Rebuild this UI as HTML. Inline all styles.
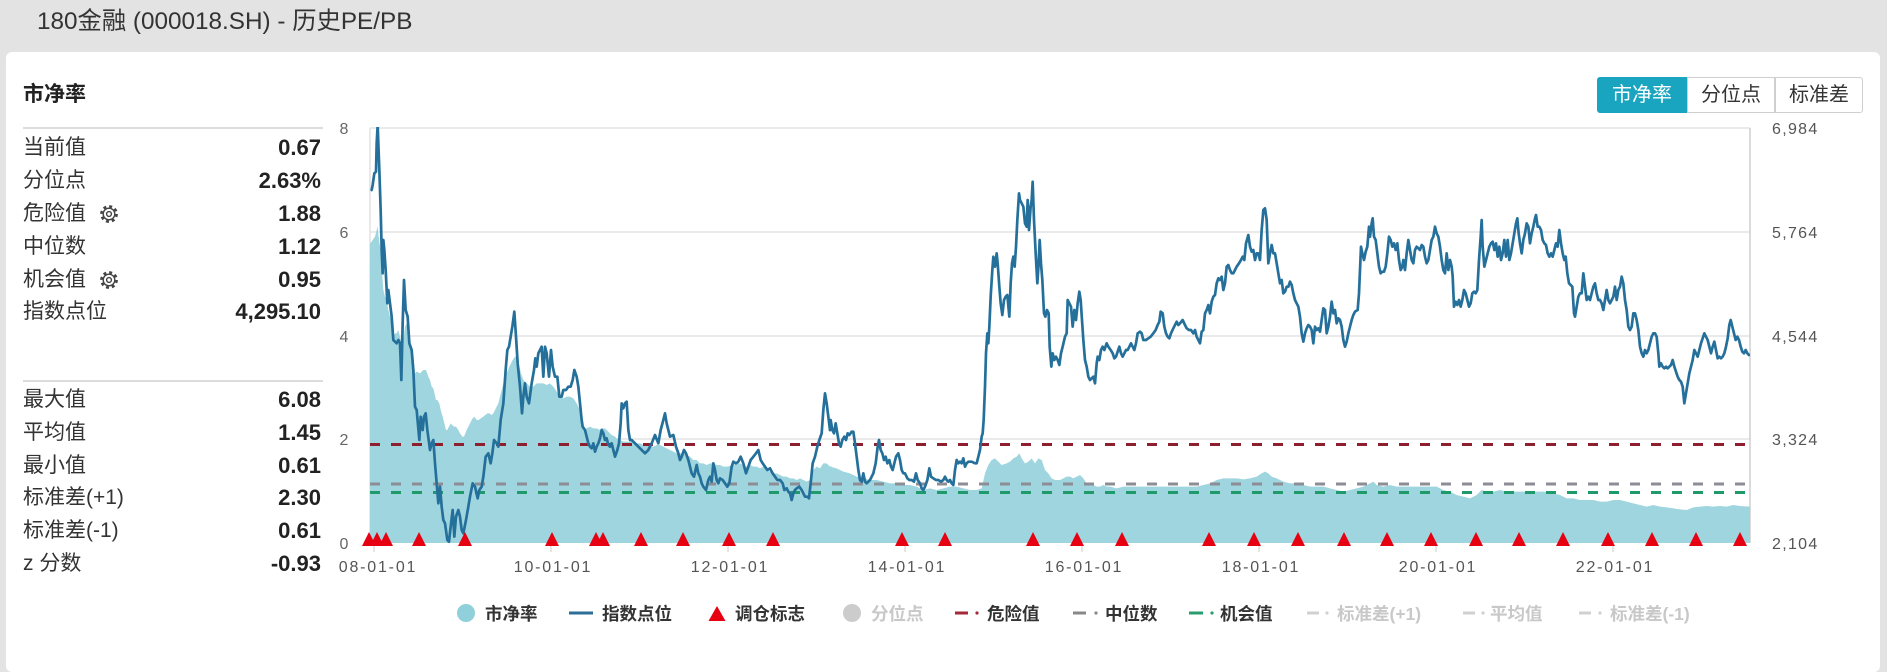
<!DOCTYPE html>
<html><head><meta charset="utf-8">
<style>
html,body{margin:0;padding:0}
body{width:1887px;height:649px;background:#e3e3e3;overflow:hidden;font-family:"Liberation Sans","Noto Sans CJK SC",sans-serif;position:relative}
.title{position:absolute;left:37px;top:5px;font-size:24.3px;line-height:34px;color:#333;white-space:nowrap}
.card{position:absolute;left:6px;top:52px;width:1874px;height:620px;background:#fff;border-radius:6px}
.h{position:absolute;left:23px;top:80px;font-size:21px;font-weight:bold;line-height:30px;color:#222}
.sep{position:absolute;left:23px;width:300px;height:2px;background:#dcdcdc}
.r{position:absolute;left:23px;width:300px;height:30px;line-height:30px;font-size:21px;color:#333;white-space:nowrap}
.r b{position:absolute;right:2px;top:0;font-size:22px;color:#222}
.r svg{position:absolute;left:76px;top:5px}
.btn{position:absolute;top:77px;height:36px;line-height:35px;font-size:20px;text-align:center;box-sizing:border-box;color:#333;background:#fff;border:1.5px solid #cfcfcf}
svg.chart{position:absolute;left:0;top:0}
</style></head>
<body>
<div class="title">180金融 (000018.SH) - 历史PE/PB</div>
<div class="card"></div>
<div class="h">市净率</div>
<div class="sep" style="top:127px"></div>
<div class="r" style="top:133px">当前值<b>0.67</b></div>
<div class="r" style="top:166px">分位点<b>2.63%</b></div>
<div class="r" style="top:199px">危险值<svg width="20" height="20" viewBox="0 0 20 20"><circle cx="10" cy="10" r="7.6" fill="none" stroke="#444" stroke-width="2.6" stroke-dasharray="2.98 2.98"/><circle cx="10" cy="10" r="5.8" fill="#fff" stroke="#444" stroke-width="1.4"/><circle cx="10" cy="10" r="2.4" fill="none" stroke="#444" stroke-width="1.4"/></svg><b>1.88</b></div>
<div class="r" style="top:232px">中位数<b>1.12</b></div>
<div class="r" style="top:265px">机会值<svg width="20" height="20" viewBox="0 0 20 20"><circle cx="10" cy="10" r="7.6" fill="none" stroke="#444" stroke-width="2.6" stroke-dasharray="2.98 2.98"/><circle cx="10" cy="10" r="5.8" fill="#fff" stroke="#444" stroke-width="1.4"/><circle cx="10" cy="10" r="2.4" fill="none" stroke="#444" stroke-width="1.4"/></svg><b>0.95</b></div>
<div class="r" style="top:297px">指数点位<b>4,295.10</b></div>
<div class="sep" style="top:380px"></div>
<div class="r" style="top:385px">最大值<b>6.08</b></div>
<div class="r" style="top:418px">平均值<b>1.45</b></div>
<div class="r" style="top:451px">最小值<b>0.61</b></div>
<div class="r" style="top:483px">标准差(+1)<b>2.30</b></div>
<div class="r" style="top:516px">标准差(-1)<b>0.61</b></div>
<div class="r" style="top:549px">z 分数<b>-0.93</b></div>

<div class="btn" style="left:1597px;width:90px;background:#19a4bf;border-color:#19a4bf;color:#fff;border-radius:3px 0 0 3px">市净率</div>
<div class="btn" style="left:1687px;width:88px">分位点</div>
<div class="btn" style="left:1775px;width:88px;border-radius:0 3px 3px 0">标准差</div>

<svg class="chart" width="1887" height="649" viewBox="0 0 1887 649">
<defs><clipPath id="cp"><rect x="370" y="127" width="1380" height="417"/></clipPath></defs>
<!-- grid -->
<g stroke="#e4e4e4" stroke-width="1.5">
<line x1="370" y1="128" x2="1750" y2="128"/>
<line x1="370" y1="232" x2="1750" y2="232"/>
<line x1="370" y1="336" x2="1750" y2="336"/>
<line x1="370" y1="439" x2="1750" y2="439"/>
</g>
<line x1="370" y1="128" x2="370" y2="543" stroke="#e2e2e2" stroke-width="1.5"/>
<line x1="1750" y1="128" x2="1750" y2="543" stroke="#cfcfcf" stroke-width="1.5"/>
<g stroke="#cccccc" stroke-width="1">
<line x1="374" y1="543" x2="374" y2="552"/><line x1="551" y1="543" x2="551" y2="552"/><line x1="728" y1="543" x2="728" y2="552"/><line x1="905" y1="543" x2="905" y2="552"/><line x1="1082" y1="543" x2="1082" y2="552"/><line x1="1259" y1="543" x2="1259" y2="552"/><line x1="1436" y1="543" x2="1436" y2="552"/><line x1="1613" y1="543" x2="1613" y2="552"/>
</g>

<g clip-path="url(#cp)">
<!-- PB area -->
<g transform="translate(330 110) scale(0.333333)" fill="#9fd5de" stroke="none">
<path d="M120,1299 L120,400 125,395 135,380 140,360 143,350 147,390 152,420 157,500 160,540 165,560 170,570 175,600 180,620 185,640 190,680 195,670 200,670 205,660 210,680 215,700 220,690 225,650 230,640 235,660 240,690 245,720 250,740 255,790 260,785 270,790 280,780 288,780 295,800 300,810 305,830 310,835 318,870 322,870 328,880 332,900 338,920 343,940 348,960 352,960 357,950 362,940 366,945 372,950 378,950 385,960 390,970 397,980 402,980 410,960 420,940 428,925 433,920 440,930 446,930 452,925 460,920 466,915 472,910 478,910 485,915 490,910 495,900 500,890 505,880 510,860 520,820 530,790 538,770 543,760 548,750 555,740 560,740 566,760 573,790 580,810 590,820 600,830 610,830 620,820 630,820 640,820 650,825 660,820 670,830 680,845 690,860 700,865 710,860 720,860 730,865 740,880 745,890 750,900 755,920 760,950 765,960 770,955 780,950 790,955 800,955 810,960 815,955 825,955 835,965 845,975 855,980 860,985 870,990 880,995 890,995 900,995 910,995 920,1000 930,1000 940,1005 950,1005 960,1010 970,1010 980,1005 990,1005 1000,1010 1010,1015 1020,1020 1030,1025 1040,1030 1050,1030 1060,1030 1070,1035 1080,1040 1090,1050 1100,1050 1110,1060 1120,1060 1130,1065 1140,1060 1150,1060 1160,1065 1170,1065 1180,1070 1190,1070 1200,1068 1210,1065 1220,1060 1230,1060 1240,1065 1250,1070 1260,1065 1270,1070 1280,1070 1290,1075 1300,1070 1310,1080 1320,1085 1330,1090 1340,1090 1350,1095 1360,1100 1370,1100 1380,1105 1390,1105 1400,1110 1410,1105 1420,1110 1430,1115 1440,1110 1450,1080 1460,1070 1470,1075 1480,1060 1490,1060 1500,1070 1504,1068 L1504,1299 Z"/>
</g>
<g transform="translate(810 120) scale(0.333333)" fill="#9fd5de" stroke="none">
<path d="M60,1269 L60,1040 80,1045 100,1055 120,1060 140,1070 160,1075 180,1080 200,1080 220,1085 240,1090 260,1090 280,1095 300,1095 320,1100 340,1110 360,1105 380,1110 400,1105 420,1100 440,1100 460,1105 480,1110 500,1110 515,1105 525,1060 535,1035 545,1020 555,1015 565,1025 575,1035 590,1030 600,1025 610,1015 620,1010 628,1000 635,1015 645,1030 655,1025 665,1015 675,1030 685,1015 695,1020 705,1050 715,1060 725,1075 735,1080 750,1080 760,1075 770,1070 780,1070 790,1075 800,1070 810,1065 820,1075 830,1090 840,1095 850,1095 860,1100 870,1100 880,1095 890,1100 900,1100 920,1105 940,1100 960,1100 980,1100 1000,1100 1020,1100 1040,1100 1060,1100 1080,1100 1100,1100 1120,1100 1140,1100 1160,1100 1180,1095 1200,1090 1220,1080 1240,1075 1260,1075 1280,1075 1300,1078 1320,1075 1340,1070 1355,1060 1365,1055 1375,1060 1385,1070 1400,1075 1420,1085 1440,1090 1460,1090 1480,1095 1500,1100 1504,1100 L1504,1269 Z"/>
</g>
<g transform="translate(1290 120) scale(0.333333)" fill="#9fd5de" stroke="none">
<path d="M60,1269 L60,1100 80,1100 100,1100 120,1105 140,1110 160,1115 180,1110 200,1105 220,1100 240,1090 250,1085 260,1095 280,1100 300,1095 320,1100 340,1100 360,1100 380,1100 400,1100 420,1100 440,1100 460,1110 480,1115 500,1125 520,1130 540,1135 560,1125 575,1110 590,1115 610,1115 630,1110 650,1115 670,1115 700,1115 730,1115 760,1115 790,1120 810,1125 830,1135 850,1135 870,1140 890,1140 910,1140 930,1145 950,1145 970,1140 990,1140 1010,1145 1030,1150 1050,1155 1070,1160 1090,1155 1110,1160 1130,1162 1150,1165 1170,1168 1190,1170 1210,1162 1230,1160 1250,1158 1270,1160 1290,1158 1310,1160 1330,1155 1350,1158 1380,1160 L1380,1269 Z"/>
</g>

<!-- reference dashed lines -->
<line x1="370" y1="444.5" x2="1750" y2="444.5" stroke="#8e1f2f" stroke-width="3" stroke-dasharray="10 11"/>
<line x1="370" y1="484" x2="1750" y2="484" stroke="#8d8d96" stroke-width="3" stroke-dasharray="10 11"/>
<line x1="370" y1="492.5" x2="1750" y2="492.5" stroke="#1f9a6b" stroke-width="3" stroke-dasharray="10 11"/>

<!-- index line -->
<g fill="none" stroke="#25709b" stroke-width="2.7" stroke-linejoin="round" stroke-linecap="round">
<g transform="translate(330 110) scale(0.333333)">
<polyline vector-effect="non-scaling-stroke" points="125,240 128,225 133,190 138,185 140,100 143,45 148,180 152,300 155,420 158,490 160,390 163,420 167,480 172,580 175,540 180,580 185,620 190,690 200,700 205,690 210,700 214,810 218,640 222,510 227,600 233,620 238,700 245,720 250,780 255,890 260,900 268,990 272,920 278,960 282,920 287,910 292,960 300,1020 305,1000 310,990 315,1060 320,1120 325,1180 330,1130 335,1190 340,1230 345,1240 352,1290 357,1295 362,1250 368,1200 373,1280 378,1220 385,1200 390,1220 395,1260 400,1270 408,1230 415,1190 420,1160 428,1120 435,1130 443,1165 448,1140 455,1130 460,1100 467,1040 475,1030 482,1060 487,1030 492,990 500,1000 505,1010 512,930 520,880 527,780 532,720 537,710 542,680 547,650 553,605 558,680 563,760 570,830 576,910 580,860 585,820 590,860 597,880 605,820 612,780 616,745 620,770 625,730 630,720 635,710 640,800 645,710 650,730 657,800 663,720 668,770 675,800 682,800 688,860 695,860 700,840 708,840 715,830 722,830 728,810 733,780 740,800 745,830 750,880 755,930 758,950 765,960 770,980 775,1000 780,1010 785,1015 790,1000 795,1025 800,1010 805,1000 810,985 815,960 820,970 825,990 830,985 835,1005 840,1010 845,1000 850,1020 855,1040 862,1020 867,1000 872,940 875,880 880,895 885,880 890,875 895,960 900,990 905,990 915,1000 925,1010 935,1020 945,1030 955,1020 965,1000 975,975 985,1000 992,960 1000,930 1005,910 1010,940 1015,960 1020,980 1030,975 1038,1010 1045,1030 1050,1050 1055,1040 1062,1020 1068,1030 1075,1050 1080,1070 1085,1090 1092,1100 1100,1065 1105,1090 1110,1100 1115,1120 1120,1130 1128,1140 1135,1110 1140,1100 1145,1115 1150,1060 1155,1080 1160,1110 1165,1120 1170,1105 1178,1110 1185,1120 1192,1130 1198,1120 1205,1070 1210,1055 1218,1060 1225,1055 1232,1040 1240,1060 1248,1090 1255,1070 1262,1050 1270,1040 1278,1030 1285,1020 1292,1050 1298,1060 1305,1070 1312,1080 1320,1075 1328,1090 1335,1100 1342,1110 1350,1110 1358,1120 1363,1140 1370,1135 1375,1145 1380,1150 1385,1170 1390,1150 1395,1140 1400,1135 1408,1130 1415,1140 1420,1150 1425,1160 1432,1160 1437,1165 1442,1120 1448,1060 1455,1040 1462,1010 1468,990 1475,970 1480,900 1485,850 1490,880 1495,920 1500,960"/>
</g>
<g transform="translate(810 120) scale(0.333333)">
<polyline vector-effect="non-scaling-stroke" points="60,930 62,900 67,930 72,940 77,910 82,940 87,970 92,980 97,960 103,950 108,960 113,940 118,945 125,935 130,935 135,970 140,1010 145,1050 150,1080 155,1085 160,1060 165,1085 170,1090 180,1080 190,1060 197,1030 203,980 207,960 212,990 217,1000 222,1020 227,1010 232,1030 238,1020 243,1040 248,1050 253,1030 258,1010 265,1000 270,1020 275,1050 280,1060 285,1060 292,1075 298,1080 305,1080 312,1085 318,1060 323,1080 330,1090 335,1105 340,1110 345,1100 352,1080 358,1045 363,1070 370,1075 378,1080 385,1080 393,1085 400,1080 405,1070 410,1080 415,1085 420,1080 425,1090 430,1095 435,1050 440,1020 445,1030 450,1025 455,1030 460,1015 465,1040 470,1030 475,1025 485,1025 495,1030 500,1030 505,1010 510,990 515,950 518,940 521,900 525,800 528,700 532,640 535,670 538,620 542,530 547,450 550,410 555,440 560,400 563,430 568,500 572,550 577,585 582,540 587,530 592,525 598,590 602,490 606,430 610,410 614,440 618,380 622,300 627,220 630,240 635,250 640,260 645,310 650,320 653,240 657,330 662,260 665,240 668,185 672,300 677,400 682,490 686,430 689,360 693,430 697,480 702,580 706,590 711,570 716,580 719,680 724,740 728,700 733,720 738,710 743,720 748,735 753,700 758,680 765,650 770,640 773,540 778,550 783,560 788,620 793,570 798,600 803,550 808,515 812,540 816,600 820,660 825,720 830,740 835,770 840,780 845,775 850,770 855,790 860,730 863,710 868,720 873,690 878,680 883,690 890,670 895,680 902,690 908,700 913,715 918,710 923,695 928,680 933,700 938,710 943,700 948,690 953,690 958,680 963,670 968,680 973,690 978,670 983,640 990,635 995,640 1000,660 1008,660 1015,655 1022,650 1030,640 1037,630 1043,615 1048,605 1052,575 1058,580 1063,620 1068,640 1073,650 1078,655 1083,640 1090,625 1095,615 1100,605 1105,615 1110,610 1118,600 1125,615 1130,625 1137,630 1143,630 1150,640 1155,630 1160,650 1165,660 1170,670 1175,635 1180,630 1185,580 1190,570 1195,555 1200,580 1205,545 1210,530 1215,525 1220,490 1225,475 1230,480 1235,470 1240,510 1245,490 1250,440 1255,435 1260,450 1265,460 1270,460 1275,450 1280,440 1287,430 1293,420 1298,410 1303,420 1308,370 1315,345 1320,380 1325,395 1330,390 1335,420 1340,400 1345,400 1350,420 1355,330 1360,270 1365,265 1370,300 1375,430 1380,400 1385,375 1390,400 1395,400 1400,430 1405,460 1410,490 1415,480 1420,520 1425,515 1430,500 1435,500 1440,485 1445,495 1450,520 1455,540 1460,550 1465,560 1470,590 1475,640 1480,665 1485,640 1490,625 1495,615 1500,620"/>
</g>
<g transform="translate(1290 120) scale(0.333333)">
<polyline vector-effect="non-scaling-stroke" points="60,620 65,630 70,670 75,620 80,630 85,625 90,635 95,600 100,565 105,570 110,640 115,620 120,590 125,545 130,580 135,570 140,610 145,595 150,600 155,620 160,660 165,680 170,665 175,640 180,620 185,600 190,585 195,575 203,570 207,520 210,450 213,380 217,400 222,420 227,395 232,380 237,320 240,350 245,310 248,295 252,350 257,360 262,400 267,440 272,460 277,455 282,455 287,440 292,400 297,350 302,360 307,380 312,370 317,390 322,370 327,420 332,450 337,440 340,420 345,450 350,400 355,360 360,390 365,420 370,430 375,390 380,380 385,385 390,390 395,375 400,380 405,410 410,430 415,420 420,390 425,360 430,350 435,320 440,340 445,350 450,380 455,420 460,450 465,460 470,400 475,450 480,420 485,440 488,470 492,560 497,545 502,555 507,540 512,560 517,540 522,510 527,520 532,540 537,560 542,550 547,520 552,515 557,520 562,510 567,420 572,350 575,300 578,380 583,440 588,420 593,400 598,380 603,370 608,365 613,390 618,370 623,410 628,380 633,420 638,400 643,360 648,410 653,360 658,420 663,400 668,370 673,340 678,310 682,295 686,340 690,370 695,400 700,360 705,340 710,310 715,320 720,370 725,340 730,320 735,295 738,285 743,320 748,320 753,330 758,360 763,370 768,375 773,400 778,410 783,400 788,410 793,390 798,370 803,380 808,330 813,370 818,400 823,420 827,410 832,460 837,490 842,495 847,500 852,580 855,590 860,560 865,530 870,520 875,520 880,460 885,500 890,540 895,530 900,540 905,520 910,500 915,490 920,520 925,540 930,540 935,550 940,570 945,540 950,510 955,540 960,550 965,540 970,530 975,500 980,540 985,510 990,500 995,470 1000,490 1005,540 1010,570 1015,620 1020,630 1025,620 1030,580 1035,580 1040,600 1045,630 1050,680 1055,700 1060,710 1065,690 1070,700 1075,690 1080,670 1085,650 1090,640 1095,640 1100,650 1105,700 1108,740 1113,730 1118,740 1123,745 1128,740 1133,745 1138,740 1143,735 1148,720 1153,740 1158,755 1163,770 1168,780 1173,785 1178,800 1183,850 1188,820 1193,790 1198,760 1203,740 1208,720 1213,690 1218,700 1223,710 1228,690 1233,670 1238,655 1243,640 1248,650 1253,660 1258,680 1263,700 1268,680 1273,665 1278,690 1283,715 1288,710 1293,715 1298,710 1303,700 1308,680 1313,655 1318,615 1322,600 1327,620 1332,640 1337,660 1342,650 1347,660 1352,680 1357,695 1362,700 1367,690 1372,700 1377,705"/>
</g>
</g>
</g>

<!-- triangles -->
<g fill="#e60012">
<path d="M369,532 l7,14 h-14z"/><path d="M377,532 l7,14 h-14z"/><path d="M386,532 l7,14 h-14z"/><path d="M419,532 l7,14 h-14z"/><path d="M465,532 l7,14 h-14z"/><path d="M552,532 l7,14 h-14z"/><path d="M596,532 l7,14 h-14z"/><path d="M603,532 l7,14 h-14z"/><path d="M641,532 l7,14 h-14z"/><path d="M683,532 l7,14 h-14z"/><path d="M729,532 l7,14 h-14z"/><path d="M773,532 l7,14 h-14z"/>
<path d="M902,532 l7,14 h-14z"/><path d="M945,532 l7,14 h-14z"/><path d="M1033,532 l7,14 h-14z"/><path d="M1077,532 l7,14 h-14z"/><path d="M1122,532 l7,14 h-14z"/><path d="M1209,532 l7,14 h-14z"/><path d="M1254,532 l7,14 h-14z"/><path d="M1298,532 l7,14 h-14z"/><path d="M1344,532 l7,14 h-14z"/><path d="M1387,532 l7,14 h-14z"/><path d="M1431,532 l7,14 h-14z"/><path d="M1476,532 l7,14 h-14z"/><path d="M1519,532 l7,14 h-14z"/><path d="M1563,532 l7,14 h-14z"/><path d="M1608,532 l7,14 h-14z"/><path d="M1652,532 l7,14 h-14z"/><path d="M1696,532 l7,14 h-14z"/><path d="M1740,532 l7,14 h-14z"/>
</g>

<!-- axis labels -->
<g font-family="Liberation Sans, sans-serif" font-size="16" fill="#666" text-anchor="middle">
<text x="344" y="134">8</text><text x="344" y="238">6</text><text x="344" y="342">4</text><text x="344" y="445">2</text><text x="344" y="549">0</text>
</g>
<g font-family="Liberation Sans, sans-serif" font-size="16" fill="#555" letter-spacing="1.3">
<text x="1772" y="134">6,984</text><text x="1772" y="238">5,764</text><text x="1772" y="342">4,544</text><text x="1772" y="445">3,324</text><text x="1772" y="549">2,104</text>
</g>
<g font-family="Liberation Sans, sans-serif" font-size="16" fill="#555" text-anchor="middle" letter-spacing="1.8">
<text x="378" y="572">08-01-01</text><text x="553" y="572">10-01-01</text><text x="730" y="572">12-01-01</text><text x="907" y="572">14-01-01</text><text x="1084" y="572">16-01-01</text><text x="1261" y="572">18-01-01</text><text x="1438" y="572">20-01-01</text><text x="1615" y="572">22-01-01</text>
</g>

<!-- legend -->
<g font-family="Liberation Sans, Noto Sans CJK SC, sans-serif" font-size="17.5" font-weight="bold">
<circle cx="466" cy="613" r="9" fill="#8fd0db"/>
<text x="485" y="620" fill="#333">市净率</text>
<line x1="569" y1="613" x2="593" y2="613" stroke="#2b6f98" stroke-width="3"/>
<text x="602" y="620" fill="#333">指数点位</text>
<path d="M717,606 l8.5,15 h-17z" fill="#e60012"/>
<text x="735" y="620" fill="#333">调仓标志</text>
<circle cx="852" cy="613" r="9" fill="#cccccc"/>
<text x="871" y="620" fill="#c8c8c8">分位点</text>
<line x1="955" y1="613" x2="968" y2="613" stroke="#a3283a" stroke-width="3"/><circle cx="977" cy="613" r="1.6" fill="#a3283a"/>
<text x="987" y="620" fill="#333">危险值</text>
<line x1="1073" y1="613" x2="1086" y2="613" stroke="#888" stroke-width="3"/><circle cx="1096" cy="613" r="1.6" fill="#888"/>
<text x="1105" y="620" fill="#333">中位数</text>
<line x1="1189" y1="613" x2="1203" y2="613" stroke="#2a9d6f" stroke-width="3"/><circle cx="1212" cy="613" r="1.6" fill="#2a9d6f"/>
<text x="1220" y="620" fill="#333">机会值</text>
<line x1="1307" y1="613" x2="1319" y2="613" stroke="#d0d0d0" stroke-width="3"/><circle cx="1327" cy="613" r="1.6" fill="#d0d0d0"/>
<text x="1337" y="620" fill="#c8c8c8">标准差(+1)</text>
<line x1="1463" y1="613" x2="1475" y2="613" stroke="#d0d0d0" stroke-width="3"/><circle cx="1483" cy="613" r="1.6" fill="#d0d0d0"/>
<text x="1490" y="620" fill="#c8c8c8">平均值</text>
<line x1="1579" y1="613" x2="1591" y2="613" stroke="#d0d0d0" stroke-width="3"/><circle cx="1600" cy="613" r="1.6" fill="#d0d0d0"/>
<text x="1610" y="620" fill="#c8c8c8">标准差(-1)</text>
</g>
</svg>
</body></html>
